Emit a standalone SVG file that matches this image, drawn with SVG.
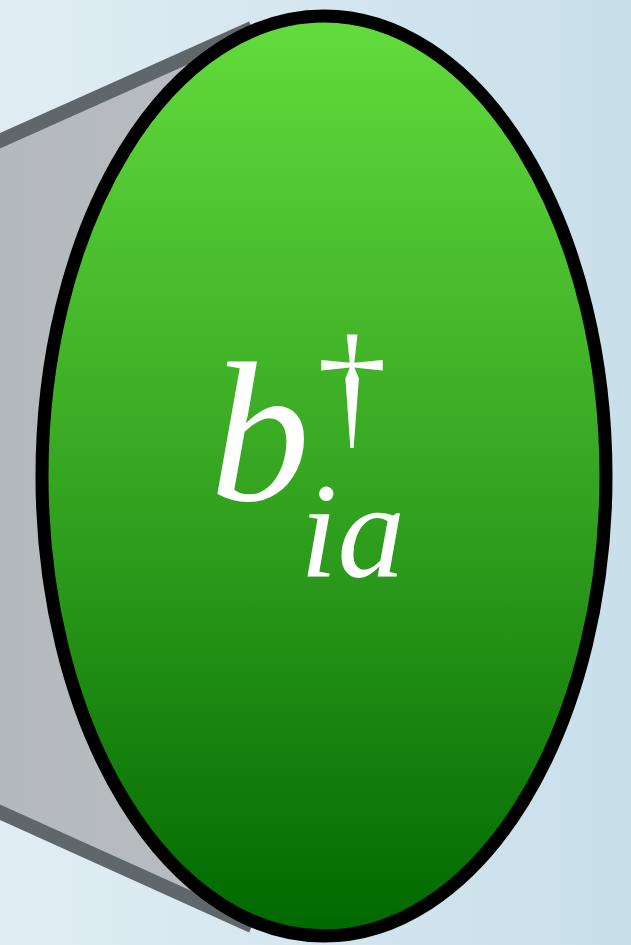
<svg xmlns="http://www.w3.org/2000/svg" width="631" height="945" viewBox="0 0 631 945">
  <defs>
    <linearGradient id="bg" x1="0" y1="0" x2="1" y2="0">
      <stop offset="0" stop-color="#e1edf4"/>
      <stop offset="1" stop-color="#c8dfea"/>
    </linearGradient>
    <linearGradient id="body" x1="0" y1="0" x2="1" y2="0">
      <stop offset="0" stop-color="#b4b9bd"/>
      <stop offset="1" stop-color="#b9bdc1"/>
    </linearGradient>
    <linearGradient id="green" x1="0" y1="0" x2="0" y2="1">
      <stop offset="0" stop-color="#62dc3d"/>
      <stop offset="0.5" stop-color="#36a621"/>
      <stop offset="1" stop-color="#006800"/>
    </linearGradient>
    <style>
      .edge { stroke: #5f676b; stroke-width: 14; fill: none; }
      .label { fill: #ffffff; font-family: "Liberation Serif", "DejaVu Serif", serif; font-style: italic; }
      .upright { fill: #ffffff; font-family: "Liberation Serif", "DejaVu Serif", serif; font-style: normal; }
    </style>
  </defs>
  <rect x="0" y="0" width="631" height="945" fill="url(#bg)"/>
  <g id="cylinder-body">
    <polygon points="-5,143 262,23 262,931 -5,810" fill="url(#body)"/>
  </g>
  <g id="connectors">
    <line class="edge" x1="-5" y1="143" x2="252" y2="28"/>
    <line class="edge" x1="-5" y1="810" x2="252" y2="926"/>
  </g>
  <g id="node-b">
    <ellipse cx="324" cy="476" rx="282" ry="460" fill="url(#green)" stroke="#000000" stroke-width="13"/>
    <text class="label" x="210" y="500" font-size="200">b</text>
    <text class="upright" x="352" y="432" font-size="140" text-anchor="middle">†</text>
    <text class="label" x="300" y="577" font-size="135">ia</text>
  </g>
</svg>
